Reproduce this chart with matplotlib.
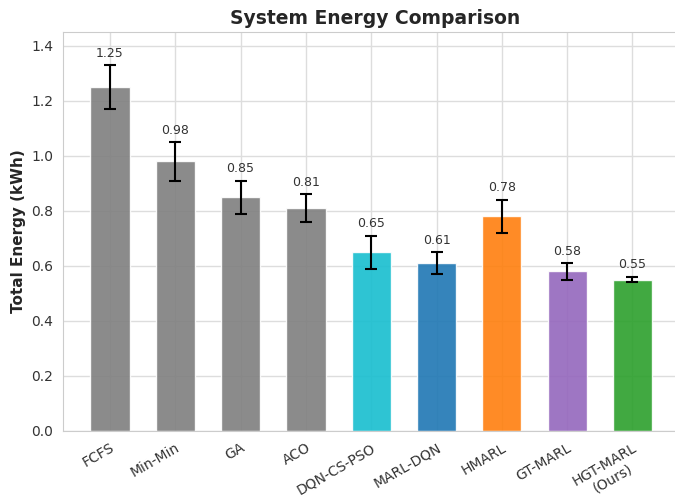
import matplotlib
matplotlib.use("Agg")
import matplotlib.pyplot as plt
import seaborn as sns
import numpy as np

methods = ["FCFS", "Min-Min", "GA", "ACO", "DQN-CS-PSO", "MARL-DQN", "HMARL", "GT-MARL", "HGT-MARL\n(Ours)"]
energy = [1.25, 0.98, 0.85, 0.81, 0.65, 0.61, 0.78, 0.58, 0.55]
errors = [0.08, 0.07, 0.06, 0.05, 0.06, 0.04, 0.06, 0.03, 0.01]
colors = ["#7f7f7f", "#7f7f7f", "#7f7f7f", "#7f7f7f", "#17becf", "#1f77b4", "#ff7f0e", "#9467bd", "#2ca02c"]

sns.set_style("whitegrid")
plt.rcParams['font.family'] = ['DejaVu Sans']

fig = plt.figure(figsize=(6.75, 5), dpi=100)
ax = fig.add_axes([0.0933, 0.138, 0.925, 0.798])

x = np.arange(len(methods))
ax.bar(x, energy, width=0.6, color=colors, alpha=0.9, yerr=errors,
       capsize=4.5, error_kw=dict(ecolor="black", elinewidth=1.5, capthick=1.5), zorder=2)
for xi, v, e in zip(x, energy, errors):
    ax.text(xi, v + e + 0.02, f"{v:.2f}", ha="center", va="bottom", fontsize=9, color="#333333")

ax.grid(color="#dddddd", linewidth=1)
ax.set_xticks(x)
ax.set_xticklabels(methods, rotation=30, ha="right", rotation_mode="anchor",
                   multialignment="center", fontsize=10, color="#333333")
ax.tick_params(axis="y", labelsize=10, colors="#333333")
ax.set_xlim(-0.72, 8.84)
ax.set_ylim(0, 1.45)
ax.set_ylabel("Total Energy (kWh)", fontsize=11, fontweight="bold")
ax.set_title("System Energy Comparison", fontsize=13.5, fontweight="bold")

fig.savefig("out.png", dpi=100)
